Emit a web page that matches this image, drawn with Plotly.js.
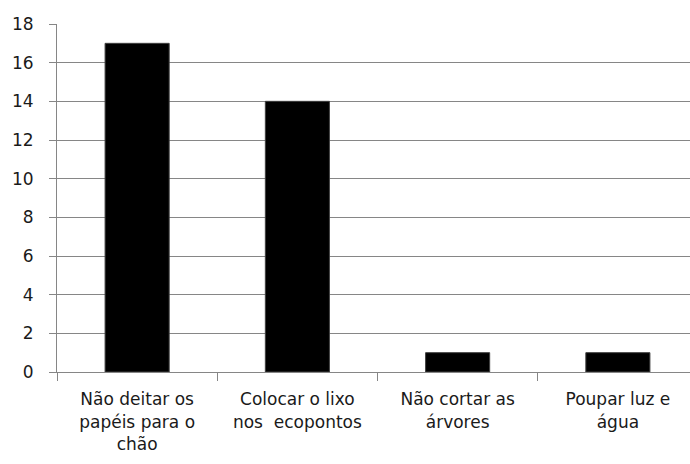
<!DOCTYPE html>
<html>
<head>
<meta charset="utf-8">
<script src="https://cdn.plot.ly/plotly-3.0.1.min.js"></script>
<style>
html, body { margin: 0; padding: 0; overflow: hidden; background: #fff; width: 690px; height: 464px; }
#chart { width: 700px; height: 464px; }
</style>
</head>
<body>
<div id="chart"></div>
<script>
const categories = [
  "Não deitar os<br>papéis para o<br>chão",
  "Colocar o lixo<br>nos&nbsp; ecopontos",
  "Não cortar as<br>árvores",
  "Poupar luz e<br>água"
];
const values = [17, 14, 1, 1];
const yTicks = [0, 2, 4, 6, 8, 10, 12, 14, 16, 18];

const trace = {
  type: "bar",
  x: categories,
  y: values,
  marker: { color: "#000000", line: { color: "#404040", width: 1 } },
  width: 0.4,
  hoverinfo: "none"
};

const layout = {
  width: 700,
  height: 464,
  margin: { l: 57, r: 2, t: 24, b: 92 },
  paper_bgcolor: "#ffffff",
  plot_bgcolor: "#ffffff",
  font: { family: "'DejaVu Sans', sans-serif", size: 17, color: "#1a1a1a" },
  showlegend: false,
  bargap: 0.6,
  xaxis: {
    type: "category",
    showgrid: false,
    showline: true,
    linecolor: "#868686",
    linewidth: 1,
    ticks: "outside",
    tickson: "boundaries",
    ticklen: 8,
    tickcolor: "#868686",
    ticklabelstandoff: 12,
    tickfont: { size: 17 },
    zeroline: false
  },
  yaxis: {
    range: [0, 18],
    tickvals: yTicks,
    ticktext: yTicks.map(String),
    showgrid: true,
    gridcolor: "#868686",
    gridwidth: 1,
    showline: true,
    linecolor: "#868686",
    ticks: "outside",
    ticklen: 7,
    tickcolor: "#868686",
    ticklabelstandoff: 12,
    tickfont: { size: 17 },
    zeroline: false
  }
};

Plotly.newPlot("chart", [trace], layout, { staticPlot: true, displayModeBar: false });
</script>
</body>
</html>
